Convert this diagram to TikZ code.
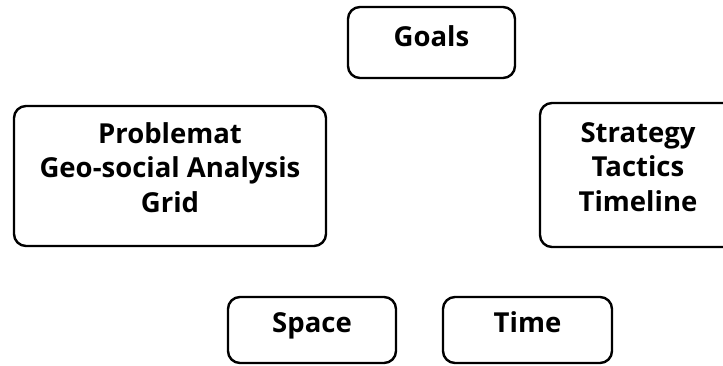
\documentclass[tikz,border=0pt]{standalone}
\usepackage{fontspec}
\setmainfont{Open Sans}
\begin{document}
\begin{tikzpicture}[x=1pt, y=-1pt, line join=round, line cap=round,
    box/.style={draw, line width=2.4pt, rounded corners=12pt, align=center, inner sep=0pt,
      font=\bfseries\fontsize{27.5}{35}\selectfont},
    onebox/.style={box, text height=20pt, text depth=16pt},
    threebox/.style={box, text height=92pt, text depth=18pt}]
    \clip (0,0) rectangle (723,366);
    \node[onebox, minimum width=167pt, minimum height=71pt, text depth=11pt] (goals) at (431.5,42.5) {Goals};
    \node[threebox, minimum width=312pt, minimum height=140pt] (problemat) at (170,176) {Problemat\\Geo-social Analysis\\Grid};
    \node[threebox, minimum width=196pt, minimum height=144pt] (strategy) at (638,175) {Strategy\\Tactics\\Timeline};
    \node[onebox, minimum width=168pt, minimum height=66pt] (space) at (312,330) {Space};
    \node[onebox, minimum width=169pt, minimum height=66pt] (time) at (527.5,330) {Time};
\end{tikzpicture}
\end{document}
